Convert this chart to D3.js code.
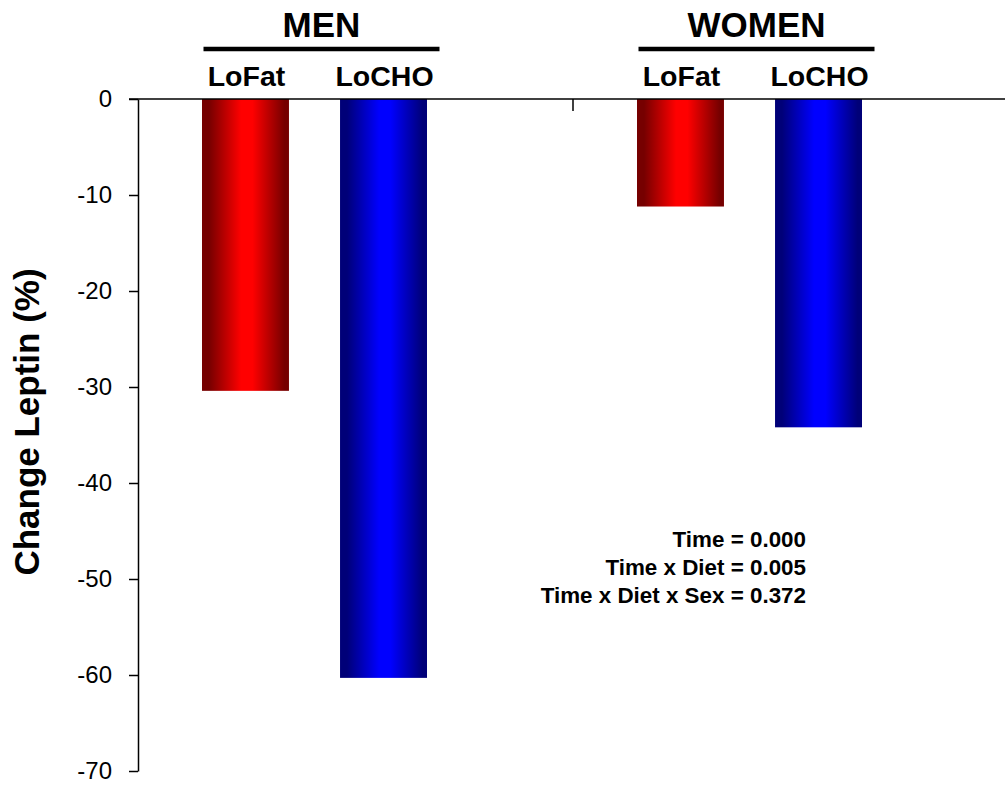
<!DOCTYPE html>
<html>
<head>
<meta charset="utf-8">
<script src="https://cdn.jsdelivr.net/npm/d3@7"></script>
<style>
  html, body { margin: 0; padding: 0; background: #fff; }
  svg { display: block; font-family: "Liberation Sans", Arial, Helvetica, sans-serif; }
</style>
</head>
<body>
<svg id="chart" width="1005" height="790"></svg>
<script>
// Percent change in leptin by sex and diet
const groups = ["MEN", "WOMEN"];
const diets = ["LoFat", "LoCHO"];
const menValues = [-30.4, -60.3];
const womenValues = [-11.2, -34.2];
const yTicks = [0, -10, -20, -30, -40, -50, -60, -70];
const statLines = ["Time = 0.000", "Time x Diet = 0.005", "Time x Diet x Sex = 0.372"];
const yTitle = "Change Leptin (%)";

const data = [];
groups.forEach((g, gi) => {
  const vals = gi === 0 ? menValues : womenValues;
  diets.forEach((d, di) => data.push({ group: g, diet: d, value: vals[di] }));
});

const svg = d3.select("#chart");

const y = d3.scaleLinear().domain([-70, 0]).range([771, 99]);
const xGroup = d3.scaleBand().domain(groups).range([138, 1008]).padding(0);
const xDiet = d3.scaleBand().domain(diets).range([64, 289]).paddingInner(0.37).paddingOuter(0);

// Bar gradients: dark edges, bright centre
const defs = svg.append("defs");
function barGradient(id, dark, bright) {
  const g = defs.append("linearGradient").attr("id", id)
    .attr("x1", "0%").attr("x2", "100%").attr("y1", "0%").attr("y2", "0%");
  [[0, dark], [0.08, dark], [0.45, bright], [0.58, bright], [0.95, dark], [1, dark]]
    .forEach(([o, c]) => g.append("stop").attr("offset", o).attr("stop-color", c));
}
barGradient("gradLoFat", "#760000", "#ff0000");
barGradient("gradLoCHO", "#000078", "#0000ff");

// Bars
svg.append("g").selectAll("rect").data(data).join("rect")
  .attr("x", d => xGroup(d.group) + xDiet(d.diet))
  .attr("width", xDiet.bandwidth())
  .attr("y", d => y(0))
  .attr("height", d => y(d.value) - y(0))
  .attr("fill", d => `url(#grad${d.diet})`);

// Y axis
const yAxis = svg.append("g").attr("transform", "translate(138,0)")
  .call(d3.axisLeft(y).tickValues(yTicks).tickFormat(d => String(d))
    .tickSize(9).tickSizeOuter(0).tickPadding(17));
yAxis.select(".domain").attr("stroke", "#000").attr("stroke-width", 1.5);
yAxis.selectAll(".tick line").attr("stroke", "#000").attr("stroke-width", 1.5);
yAxis.selectAll(".tick text").attr("font-size", 24).attr("fill", "#000")
  .attr("font-family", "'Liberation Sans', Arial, sans-serif");

// X axis along zero, with a tick between the groups
svg.append("line")
  .attr("x1", 129).attr("x2", 1005)
  .attr("y1", y(0)).attr("y2", y(0))
  .attr("stroke", "#000").attr("stroke-width", 1.5);
svg.append("g").selectAll("line").data(groups.slice(1)).join("line")
  .attr("x1", d => xGroup(d)).attr("x2", d => xGroup(d))
  .attr("y1", y(0)).attr("y2", y(0) + 12)
  .attr("stroke", "#000").attr("stroke-width", 1.5);

// Group headers with underline
const header = svg.append("g").selectAll("g").data(groups).join("g")
  .attr("transform", d => `translate(${xGroup(d) + (xDiet.range()[0] + xDiet.range()[1]) / 2 + 7},0)`);
header.append("text")
  .attr("y", 37).attr("text-anchor", "middle")
  .attr("font-size", 35).attr("font-weight", "bold").attr("fill", "#000")
  .text(d => d);
header.append("line")
  .attr("x1", -118).attr("x2", 118).attr("y1", 49).attr("y2", 49)
  .attr("stroke", "#000").attr("stroke-width", 4.5);

// Diet labels above each bar
svg.append("g").selectAll("text").data(data).join("text")
  .attr("x", d => xGroup(d.group) + xDiet(d.diet) + xDiet.bandwidth() / 2 + 1)
  .attr("y", 86).attr("text-anchor", "middle")
  .attr("font-size", 28.5).attr("font-weight", "bold").attr("fill", "#000")
  .text(d => d.diet);

// Y title
svg.append("text")
  .attr("transform", `translate(39,${(y(0) + y(-70)) / 2 - 13}) rotate(-90)`)
  .attr("text-anchor", "middle")
  .attr("font-size", 35).attr("font-weight", "bold").attr("fill", "#000")
  .text(yTitle);

// Statistics
svg.append("g").selectAll("text").data(statLines).join("text")
  .attr("x", 806).attr("y", (d, i) => 547 + i * 28)
  .attr("text-anchor", "end")
  .attr("font-size", 22.4).attr("font-weight", "bold").attr("fill", "#000")
  .text(d => d);
</script>
</body>
</html>
